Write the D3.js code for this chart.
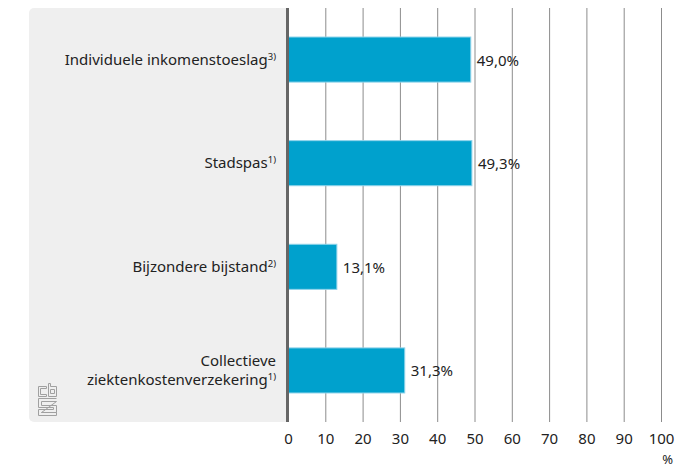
<!doctype html>
<html lang="nl">
  <head>
    <meta charset="UTF-8" />
    <title>Regelingen</title>
    <script src="https://d3js.org/d3.v7.min.js"></script>
    <style>
      html, body { margin: 0; padding: 0; background: #fff; }
      svg { display: block; font-family: "Noto Sans", "DejaVu Sans", sans-serif; }
      text { fill: #222; }
    </style>
  </head>
  <body>
    <svg id="chart" width="690" height="468"></svg>
    <script>
      // data
      const categories = [
        ["Individuele inkomenstoeslag", "3)"],
        ["Stadspas", "1)"],
        ["Bijzondere bijstand", "2)"],
        ["Collectieve|ziektenkostenverzekering", "1)"]
      ];
      const values = [49.0, 49.3, 13.1, 31.3];
      const ticks = [0, 10, 20, 30, 40, 50, 60, 70, 80, 90, 100];

      const svg = d3.select("#chart");
      const plotTop = 8, plotBottom = 422;

      const x = d3.scaleLinear().domain([0, 100]).range([288, 661]);
      const y = d3.scaleBand().domain(d3.range(values.length)).range([plotTop, plotBottom]).paddingInner(0.565).paddingOuter(0.28);

      // grey label panel
      svg.append("rect")
        .attr("x", 29).attr("y", plotTop)
        .attr("width", 265).attr("height", plotBottom - plotTop)
        .attr("rx", 5).attr("fill", "#efefef");
      svg.append("rect")
        .attr("x", 287.5).attr("y", plotTop)
        .attr("width", 20).attr("height", plotBottom - plotTop)
        .attr("fill", "#fff");

      // gridlines
      svg.append("g").selectAll("line")
        .data(ticks.slice(1))
        .enter().append("line")
        .attr("x1", (d) => x(d) + 0.5).attr("x2", (d) => x(d) + 0.5)
        .attr("y1", plotTop).attr("y2", plotBottom)
        .attr("stroke", "#8c8c8c").attr("stroke-width", 1);

      // tick labels
      svg.append("g").selectAll("text")
        .data(ticks)
        .enter().append("text")
        .attr("x", (d) => x(d) + 0.5)
        .attr("y", 444)
        .attr("text-anchor", "middle")
        .style("font-size", "15px")
        .text((d) => d);

      svg.append("text")
        .attr("x", 673).attr("y", 464)
        .attr("text-anchor", "end")
        .style("font-size", "13px")
        .text("%");

      // bars
      svg.append("g").selectAll("rect")
        .data(values)
        .enter().append("rect")
        .attr("x", x(0))
        .attr("y", (d, i) => y(i))
        .attr("width", (d) => x(d) - x(0))
        .attr("height", y.bandwidth())
        .attr("fill", "#00a1cd")
        .attr("stroke", "#8fd3ea")
        .attr("stroke-width", 1);

      // value labels
      svg.append("g").selectAll("text")
        .data(values)
        .enter().append("text")
        .attr("x", (d) => x(d) + 6)
        .attr("y", (d, i) => y(i) + y.bandwidth() / 2 + 6)
        .style("font-size", "15px")
        .text((d) => d.toFixed(1).replace(".", ",") + "%");

      // category labels
      const labels = svg.append("g").selectAll("text")
        .data(categories)
        .enter().append("text")
        .attr("text-anchor", "end")
        .style("font-size", "15px");

      labels.each(function (d, i) {
        const t = d3.select(this);
        const lines = d[0].split("|");
        const cy = y(i) + y.bandwidth() / 2;
        const y0 = cy + 5 - (lines.length - 1) * 9;
        lines.forEach((ln, k) => {
          t.append("tspan").attr("x", 276).attr("y", y0 + k * 19).text(ln);
          if (k === lines.length - 1) {
            t.append("tspan").attr("dy", -5).style("font-size", "9.5px").text(d[1]);
          }
        });
      });

      // axis line
      svg.append("line")
        .attr("x1", 287.5).attr("x2", 287.5)
        .attr("y1", plotTop).attr("y2", plotBottom)
        .attr("stroke", "#666").attr("stroke-width", 3);

      // cbs logo
      const logo = svg.append("g")
        .attr("transform", "translate(38.5,383.5)")
        .attr("fill", "none").attr("stroke", "#a0a0a0").attr("stroke-width", 1);
      logo.append("path").attr("d", "M8,3 H0 V13 H8 V11 H2 V5 H8 Z");
      logo.append("path").attr("d", "M10,0 H12 V3 H18 V13 H10 Z M12,6 H16 V10 H12 Z");
      logo.append("path").attr("d", "M18,15 H0 V24 H15 V26 H0 V32 H18 V29 H3 V29 M3,29 H18 V22 H3 V18 H18 Z");
    </script>
  </body>
</html>
